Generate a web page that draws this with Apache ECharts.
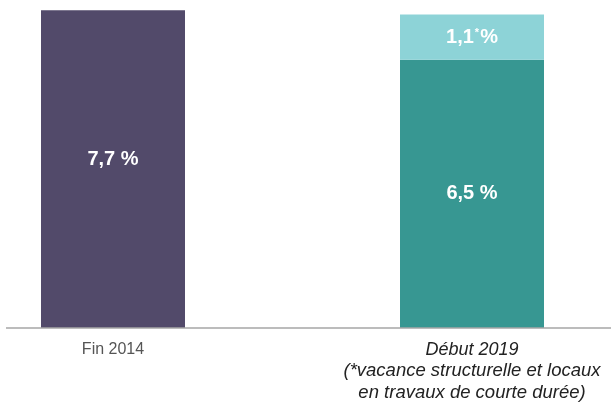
<!DOCTYPE html>
<html>
<head>
<meta charset="utf-8">
<script src="https://cdn.jsdelivr.net/npm/echarts@6/dist/echarts.min.js"></script>
<style>html,body{margin:0;padding:0;background:#fff;}#c{width:611px;height:409px;}</style>
</head>
<body>
<div id="c"></div>
<script>
var categories = ['Fin 2014', 'Début 2019'];
var note = ['(*vacance structurelle et locaux', 'en travaux de courte durée)'];
var fin2014 = [7.7, '-'];
var structurelle = ['-', 6.5];
var travaux = ['-', 1.1];

function fmt(v) { return v.toFixed(1).replace('.', ','); }

var chart = echarts.init(document.getElementById('c'), null, {renderer: 'canvas'});
chart.setOption({
  animation: false,
  grid: {left: -66.5, right: -40.5, top: 0, bottom: 81, outerBoundsMode: 'none', containLabel: false},
  xAxis: {
    type: 'category',
    data: categories,
    axisLine: {show: false},
    axisTick: {show: false},
    axisLabel: {
      margin: 12,
      interval: 0,
      formatter: function (v) {
        if (v === categories[0]) return '{a|' + v + '}';
        return '{b|' + v + '}\n{c|' + note[0] + '}\n{c|' + note[1] + '}';
      },
      rich: {
        a: {fontFamily: '"Liberation Sans Narrow", "Liberation Sans", Arial', fontSize: 16, lineHeight: 20, color: '#555555'},
        b: {fontFamily: '"Liberation Sans", Arial', fontStyle: 'italic', fontSize: 18, lineHeight: 20, color: '#222222', align: 'center'},
        c: {fontFamily: '"Liberation Sans", Arial', fontStyle: 'italic', fontSize: 18.5, lineHeight: 22, color: '#222222', align: 'center'}
      }
    }
  },
  yAxis: {type: 'value', min: 0, max: 7.95, show: false, splitLine: {show: false}},
  graphic: [{
    type: 'line',
    shape: {x1: 6, y1: 328, x2: 611, y2: 328},
    style: {stroke: '#a6a6a6', lineWidth: 1.5},
    z: 10
  }],
  series: [
    {
      type: 'bar', stack: 'a', data: fin2014, barWidth: 144,
      itemStyle: {color: '#524a6a'},
      label: {show: true, position: 'inside', offset: [0, -10], color: '#fff',
        fontFamily: '"Liberation Sans", Arial', fontWeight: 'bold', fontSize: 20,
        formatter: function (p) { return fmt(p.value) + ' %'; }}
    },
    {
      type: 'bar', stack: 'a', data: structurelle, barWidth: 144,
      itemStyle: {color: '#379792'},
      label: {show: true, position: 'inside', color: '#fff',
        fontFamily: '"Liberation Sans", Arial', fontWeight: 'bold', fontSize: 20,
        formatter: function (p) { return fmt(p.value) + ' %'; }}
    },
    {
      type: 'bar', stack: 'a', data: travaux, barWidth: 144,
      itemStyle: {color: '#8dd3d7'},
      label: {show: true, position: 'inside', color: '#fff',
        fontFamily: '"Liberation Sans", Arial', fontWeight: 'bold', fontSize: 20,
        formatter: function (p) { return fmt(p.value) + '{s|*}%'; },
        rich: {s: {fontSize: 11, fontWeight: 'bold', color: '#fff', verticalAlign: 'top', padding: [0, 1, 4, 1]}}}
    }
  ]
});
</script>
</body>
</html>
